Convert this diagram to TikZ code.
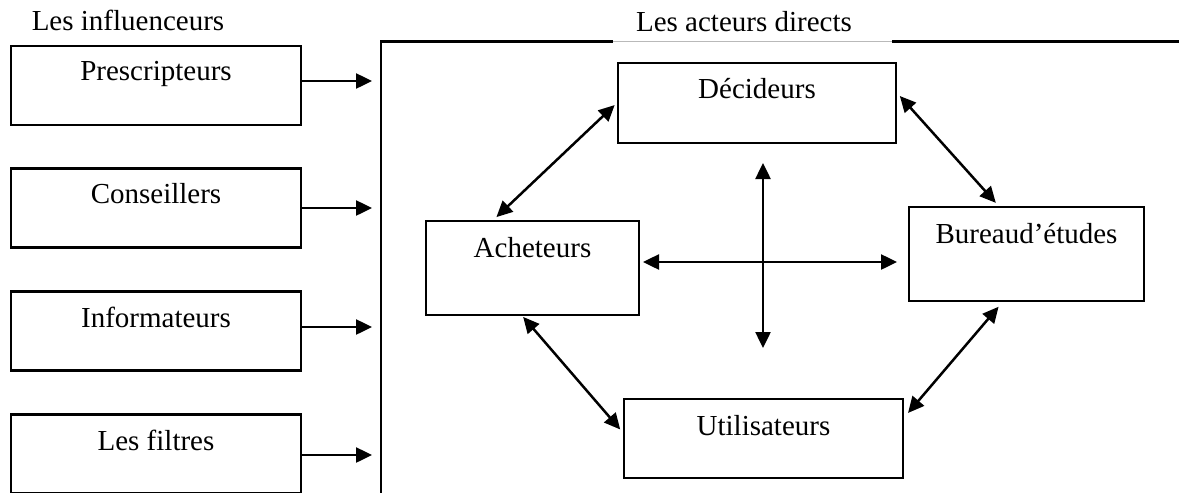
\documentclass[tikz,border=0pt]{standalone}
\usepackage{fontspec}
\setmainfont{Liberation Serif}
\usetikzlibrary{arrows.meta}

\begin{document}
\begin{tikzpicture}[x=1pt,y=-1pt,
  every node/.style={font=\fontsize{29}{34}\selectfont},
  boxnode/.style={draw,line width=2.3pt,minimum width=#1,inner sep=0pt},
  leftbox/.style={boxnode=290pt,minimum height=79pt},
  label text/.style={anchor=base,inner sep=0pt},
  arr/.style={line width=2.5pt,-{Triangle[length=16pt,width=15pt]}},
  dbl/.style={line width=2.5pt,{Triangle[length=16pt,width=15pt]}-{Triangle[length=16pt,width=15pt]}},
  frame/.style={line width=2.5pt}]
\useasboundingbox (0,0) rectangle (1179,493);
\clip (0,0) rectangle (1179,493);

% headings
\node[label text] (hinf) at (128,30) {Les influenceurs};
\node[label text] (hact) at (744,31) {Les acteurs directs};

% frame around the direct actors
\coordinate (fTL) at (381,41.7);
\coordinate (fBL) at (381,500);
\coordinate (gapL) at (613,41.7);
\coordinate (gapR) at (892,41.7);
\coordinate (fTR) at (1185,41.7);
\draw[frame] (fBL) -- (fTL) -- (gapL);
\draw[frame] (gapR) -- (fTR);
\draw[gray!55,line width=1pt] (gapL) -- (gapR);

% influencers
\node[leftbox] (pre) at (156,85.5) {};
\node[leftbox] (con) at (156,208) {};
\node[leftbox] (inf) at (156,331) {};
\node[leftbox] (fil) at (156,454) {};
\node[label text] (tpre) at ([yshift=-36pt]pre.north) {Prescripteurs};
\node[label text] (tcon) at ([yshift=-36pt]con.north) {Conseillers};
\node[label text] (tinf) at ([yshift=-37pt]inf.north) {Informateurs};
\node[label text] (tfil) at ([yshift=-37pt]fil.north) {Les filtres};

\coordinate (fr) at (372,0);
\draw[arr] ([yshift=4.5pt]pre.east) coordinate (s1) -- (s1 -| fr);
\draw[arr] ([yshift=0pt]con.east) coordinate (s2) -- (s2 -| fr);
\draw[arr] ([yshift=4pt]inf.east) coordinate (s3) -- (s3 -| fr);
\draw[arr] ([yshift=-1pt]fil.east) coordinate (s4) -- (s4 -| fr);

% direct actors
\node[boxnode=278pt,minimum height=80pt] (dec) at (757,103) {};
\node[boxnode=213pt,minimum height=94pt] (ach) at (532.5,268) {};
\node[boxnode=235pt,minimum height=94pt] (bur) at (1026.5,254) {};
\node[boxnode=279pt,minimum height=79pt] (uti) at (763.5,438.5) {};
\node[label text] (tdec) at ([yshift=-37pt]dec.north) {Décideurs};
\node[label text] (tach) at ([yshift=-38pt]ach.north) {Acheteurs};
\node[label text] (tbur) at ([yshift=-38pt]bur.north) {Bureaud’études};
\node[label text] (tuti) at ([yshift=-38pt]uti.north) {Utilisateurs};

% links between the direct actors
\draw[dbl,shorten <=3pt,shorten >=4pt] (dec.west) -- ([xshift=-39pt]ach.north);
\draw[dbl,shorten <=4pt,shorten >=4pt] ([yshift=10pt]dec.east) -- ([xshift=-28pt]bur.north);
\draw[dbl,shorten <=6pt,shorten >=6pt] ([xshift=-24pt]bur.south) -- ([yshift=21pt]uti.east);
\draw[dbl,shorten <=1pt,shorten >=4pt] ([xshift=-10pt]ach.south) -- ([yshift=6pt]uti.west);

% central cross
\coordinate (cN) at (763,163);
\coordinate (cS) at (763,348);
\coordinate (cW) at (643,262);
\coordinate (cE) at (897,262);
\draw[dbl] (cN) -- (cS);
\draw[dbl] (cW) -- (cE);
\end{tikzpicture}
\end{document}
